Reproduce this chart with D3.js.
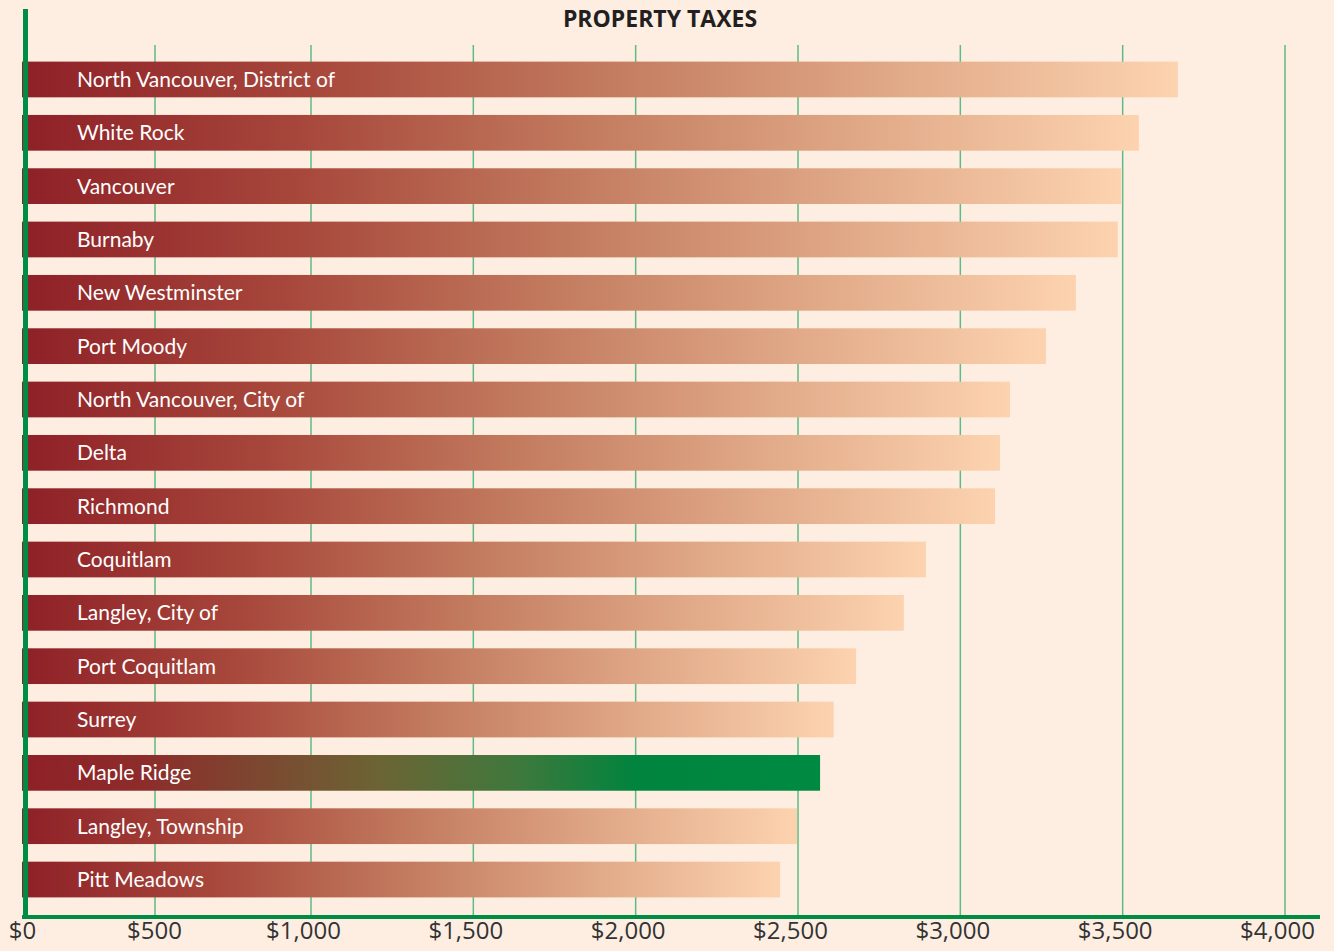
<!DOCTYPE html>
<html>
<head>
<meta charset="utf-8">
<script src="https://cdn.jsdelivr.net/npm/d3@7"></script>
<style>
  body { margin: 0; background: #feeee2; }
  svg { display: block; }
</style>
</head>
<body>
<div id="chart"></div>
<script>
const width = 1334, height = 951;

const places = ["North Vancouver, District of", "White Rock", "Vancouver", "Burnaby", "New Westminster",
    "Port Moody", "North Vancouver, City of", "Delta", "Richmond", "Coquitlam", "Langley, City of",
    "Port Coquitlam", "Surrey", "Maple Ridge", "Langley, Township", "Pitt Meadows"];
const taxes = [3670, 3550, 3495, 3485, 3356, 3264, 3153, 3122, 3107, 2894, 2826, 2679, 2610, 2568, 2497, 2445];
const highlight = "Maple Ridge";
const tickValues = [0, 500, 1000, 1500, 2000, 2500, 3000, 3500, 4000];

const rows = places.map((p, i) => ({name: p, value: taxes[i]}));

// the original's grid is not evenly spaced, so the scale is piecewise
var x = d3.scaleLinear()
    .domain([0, 500, 1000, 4000])
    .range([22, 155, 311, 1285]);

var y = d3.scaleBand()
    .domain(places)
    .range([44, 915])
    .padding(0.33);

var svg = d3.select("#chart").append("svg")
    .attr("width", width)
    .attr("height", height);

svg.append("rect").attr("width", width).attr("height", height).attr("fill", "#feeee2");

var defs = svg.append("defs");

var warm = defs.append("linearGradient").attr("id", "warm");
[[0, "#8e2027"], [0.25, "#a7473b"], [0.5, "#c27a5e"], [0.75, "#e0a887"], [1, "#fdd3af"]]
    .forEach(s => warm.append("stop").attr("offset", s[0]).attr("stop-color", s[1]));

var green = defs.append("linearGradient").attr("id", "green");
[[0, "#8e2027"], [0.15, "#8d2c2b"], [0.3, "#7c4830"], [0.45, "#6b6434"], [0.62, "#3f783c"], [0.77, "#00843e"], [1, "#008a41"]]
    .forEach(s => green.append("stop").attr("offset", s[0]).attr("stop-color", s[1]));

// grid lines
svg.append("g").selectAll("line")
    .data(tickValues.filter(d => d > 0))
    .enter().append("line")
    .attr("x1", d => x(d)).attr("x2", d => x(d))
    .attr("y1", 45).attr("y2", 917)
    .attr("stroke", "#5cbd82")
    .attr("stroke-width", 1.5);

svg.append("text")
    .attr("x", 660)
    .attr("y", 27)
    .attr("text-anchor", "middle")
    .attr("font-family", "Open Sans")
    .attr("font-weight", 700)
    .attr("font-size", 23)
    .attr("fill", "#231f20")
    .text("PROPERTY TAXES");

var bars = svg.append("g").selectAll("g")
    .data(rows)
    .enter().append("g");

bars.append("rect")
    .attr("x", x(0))
    .attr("y", d => y(d.name))
    .attr("width", d => x(d.value) - x(0))
    .attr("height", y.bandwidth())
    .attr("fill", d => d.name === highlight ? "url(#green)" : "url(#warm)");

bars.append("text")
    .attr("x", 77)
    .attr("y", d => y(d.name) + y.bandwidth() / 2)
    .attr("dy", "0.36em")
    .attr("font-family", "Lato")
    .attr("font-size", 21)
    .attr("fill", "#ffffff")
    .text(d => d.name);

// axis lines
svg.append("line")
    .attr("x1", 25.5).attr("x2", 25.5)
    .attr("y1", 9).attr("y2", 919)
    .attr("stroke", "#008c45").attr("stroke-width", 5);

svg.append("line")
    .attr("x1", 22).attr("x2", 1320)
    .attr("y1", 917).attr("y2", 917)
    .attr("stroke", "#008c45").attr("stroke-width", 4);

var xAxis = d3.axisBottom(x)
    .tickValues(tickValues)
    .tickSize(0)
    .tickFormat(d => "$" + d3.format(",")(d));

var axisG = svg.append("g")
    .attr("transform", "translate(0, 917)")
    .call(xAxis);

axisG.select(".domain").remove();
axisG.selectAll("text")
    .attr("dy", "0.8em")
    .attr("dx", d => d === 0 ? 0 : d <= 500 ? -1 : -8)
    .attr("font-family", "Open Sans")
    .attr("font-size", 24)
    .attr("fill", "#333333");
</script>
</body>
</html>
